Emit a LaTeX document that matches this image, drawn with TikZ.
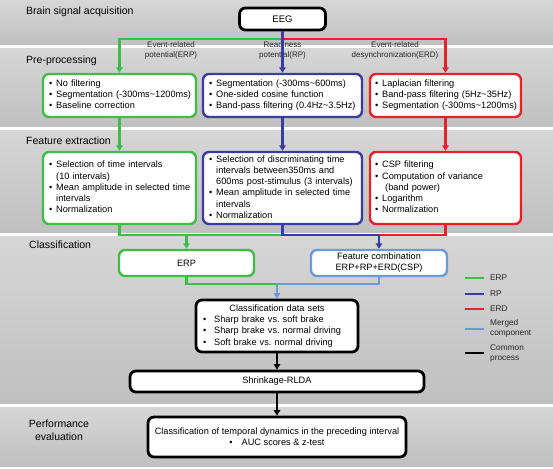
\documentclass[tikz,border=0pt]{standalone}
\usepackage{fontspec}
\setmainfont{Liberation Sans}
\usetikzlibrary{arrows.meta}
\definecolor{cg}{HTML}{3DBE45}
\definecolor{cb}{HTML}{3B3BA3}
\definecolor{cr}{HTML}{E8202A}
\definecolor{cl}{HTML}{6A9AD8}
\definecolor{bandtop}{HTML}{D6D6D6}
\definecolor{bandbot}{HTML}{C0C0C0}
\newcommand{\tld}{\char"7E\relax}
\newcommand{\bt}{\textbullet}
\newcommand{\boxfont}{\fontsize{9.2}{11.2}\selectfont}
\begin{document}
\begin{tikzpicture}[x=1pt,y=-1pt,
  band/.style={top color=bandtop,bottom color=bandbot,draw=none},
  bandlabel/.style={anchor=west,font=\fontsize{10.5}{12.5}\selectfont,inner sep=0pt},
  box/.style={draw,fill=white,rounded corners=6pt,line width=2.4pt,inner sep=0pt,font=\boxfont},
  lbox/.style={box,align=left,inner xsep=6pt},
  cbox/.style={box,align=center},
  kbox/.style={box,draw=black,line width=2.8pt},
  conn/.style={line width=2.3pt},
  arr/.style={conn,-{Triangle[length=5.5pt,width=6.5pt]}},
  gl/.style={draw=cg},
  bl/.style={draw=cb},
  rl/.style={draw=cr},
  ll/.style={draw=cl},
  kl/.style={draw=black},
  branch/.style={align=center,font=\fontsize{8}{10}\selectfont,text=black!85,inner sep=0pt},
  legline/.style={line width=2.8pt},
  legtext/.style={anchor=west,align=left,font=\fontsize{8.3}{10}\selectfont,inner sep=0pt,text=black!85}
]
\useasboundingbox (0,0) rectangle (553,468);
% bands
\fill[band] (0,1) rectangle (553,45);
\fill[band] (0,49) rectangle (553,126);
\fill[band] (0,130) rectangle (553,232);
\fill[band] (0,236) rectangle (553,403);
\fill[band] (0,407) rectangle (553,466);
% band labels
\node[bandlabel] (t1) at (26,12) {Brain signal acquisition};
\node[bandlabel] (t2) at (26,61) {Pre-processing};
\node[bandlabel] (t3) at (26,141) {Feature extraction};
\node[bandlabel] (t4) at (29,245) {Classification};
\node[bandlabel,anchor=center,align=center,font=\fontsize{10.5}{13.5}\selectfont] (t5) at (59,430) {Performance\\evaluation};

% boxes
\node[kbox,minimum width=86pt,minimum height=22pt,font=\fontsize{9.5}{11}\selectfont] (eeg) at (282.5,19) {EEG};

\node[lbox,draw=cg,minimum width=153pt,minimum height=43pt,text width=141pt] (pg) at (119.5,95.5)
{\noindent\begin{tabular}{@{}l@{\hspace{4pt}}l@{}}
\bt & No filtering\\
\bt & Segmentation (-300ms\tld1200ms)\\
\bt & Baseline correction
\end{tabular}};
\node[lbox,draw=cb,minimum width=159pt,minimum height=43pt,text width=147pt] (pb) at (282.5,95.5)
{\noindent\begin{tabular}{@{}l@{\hspace{4pt}}l@{}}
\bt & Segmentation (-300ms\tld600ms)\\
\bt & One-sided cosine function\\
\bt & Band-pass filtering (0.4Hz\tld3.5Hz)
\end{tabular}};
\node[lbox,draw=cr,inner xsep=5pt,minimum width=151pt,minimum height=43pt,text width=141pt] (pr) at (445.5,95.5)
{\noindent\begin{tabular}{@{}l@{\hspace{4pt}}l@{}}
\bt & Laplacian filtering\\
\bt & Band-pass filtering (5Hz\tld35Hz)\\
\bt & Segmentation (-300ms\tld1200ms)
\end{tabular}};

\node[lbox,draw=cg,minimum width=153pt,minimum height=72pt,text width=141pt] (fg) at (119.5,188)
{\noindent\begin{tabular}{@{}l@{\hspace{4pt}}l@{}}
\bt & Selection of time intervals\\
 & (10 intervals)\\
\bt & Mean amplitude in selected time\\
 & intervals\\
\bt & Normalization
\end{tabular}};
\node[lbox,draw=cb,minimum width=159pt,minimum height=72pt,text width=147pt] (fb) at (282.5,188)
{\noindent\begin{tabular}{@{}l@{\hspace{4pt}}l@{}}
\bt & Selection of discriminating time\\
 & intervals between350ms and\\
 & 600ms post-stimulus (3 intervals)\\
\bt & Mean amplitude in selected time\\
 & intervals\\
\bt & Normalization
\end{tabular}};
\node[lbox,draw=cr,inner xsep=5pt,minimum width=151pt,minimum height=72pt,text width=141pt] (fr) at (445.5,188)
{\noindent\begin{tabular}{@{}l@{\hspace{4pt}}l@{}}
\bt & CSP filtering\\
\bt & Computation of variance\\
 & \hspace{3pt}(band power)\\
\bt & Logarithm\\
\bt & Normalization
\end{tabular}};

\node[cbox,draw=cg,minimum width=135pt,minimum height=26pt] (erp) at (186.5,263) {ERP};
\node[cbox,draw=cl,minimum width=136pt,minimum height=26pt] (fc) at (379,263) {Feature combination\\ERP+RP+ERD(CSP)};

\node[kbox,align=left,inner xsep=7pt,minimum width=162pt,minimum height=52pt,text width=148pt] (ds) at (277,326)
{\noindent\begin{tabular}{@{}l@{\hspace{8pt}}l@{}}
\multicolumn{2}{@{}l@{}}{\makebox[148pt]{Classification data sets}}\\
\bt & Sharp brake vs.\ soft brake\\
\bt & Sharp brake vs.\ normal driving\\
\bt & Soft brake vs.\ normal driving
\end{tabular}};

\node[kbox,align=center,minimum width=294pt,minimum height=21pt] (shr) at (277,381.5) {Shrinkage-RLDA};
\node[kbox,align=center,minimum width=258pt,minimum height=40pt] (fin) at (277,437)
{Classification of temporal dynamics in the preceding interval\\ \bt\hspace{9pt}AUC scores \& z-test};

% branch labels
\node[branch] (lerp) at (171,50) {Event-related\\potential(ERP)};
\node[branch] (lrd) at (282.5,50) {Readiness\\potential(RP)};
\node[branch] (lerd) at (395,50) {Event-related\\desynchronization(ERD)};

% connectors
\coordinate (split) at (282.5,39);
\draw[arr,gl] (split) -| (pg.north);
\draw[arr,rl] (split) -| (pr.north);
\draw[arr,bl] (eeg.south) -- (pb.north);

\draw[arr,gl] (pg.south) -- (fg.north);
\draw[arr,bl] (pb.south) -- (fb.north);
\draw[arr,rl] (pr.south) -- (fr.north);

\coordinate (j1) at (282.5,235);
\coordinate (j2) at (379,235);
\draw[conn,gl] (fg.south) |- (j1);
\draw[conn,rl] (fr.south) |- (j2);
\draw[conn,bl] (fb.south) -- (j1) -- (j2);
\draw[arr,gl] (erp.north |- j1) -- (erp.north);
\draw[arr,bl] (j2) -- (fc.north);

\coordinate (m) at (277,284);
\draw[conn,gl] (erp.south) |- (m);
\draw[conn,ll] (fc.south) |- (m);
\draw[arr,ll] (m) -- (ds.north);
\draw[arr,kl] (ds.south) -- (shr.north);
\draw[arr,kl] (shr.south) -- (fin.north);

% legend
\draw[legline,cg] (465,278) -- (484,278);
\draw[legline,cb] (465,294) -- (484,294);
\draw[legline,cr] (465,309) -- (484,309);
\draw[legline,cl] (465,329) -- (484,329);
\draw[legline,black] (465,353) -- (484,353);
\node[legtext] (g1) at (490,278) {ERP};
\node[legtext] (g2) at (490,294) {RP};
\node[legtext] (g3) at (490,309) {ERD};
\node[legtext] (g4) at (490,328.5) {Merged\\component};
\node[legtext] (g5) at (490,353) {Common\\process};
\end{tikzpicture}
\end{document}
